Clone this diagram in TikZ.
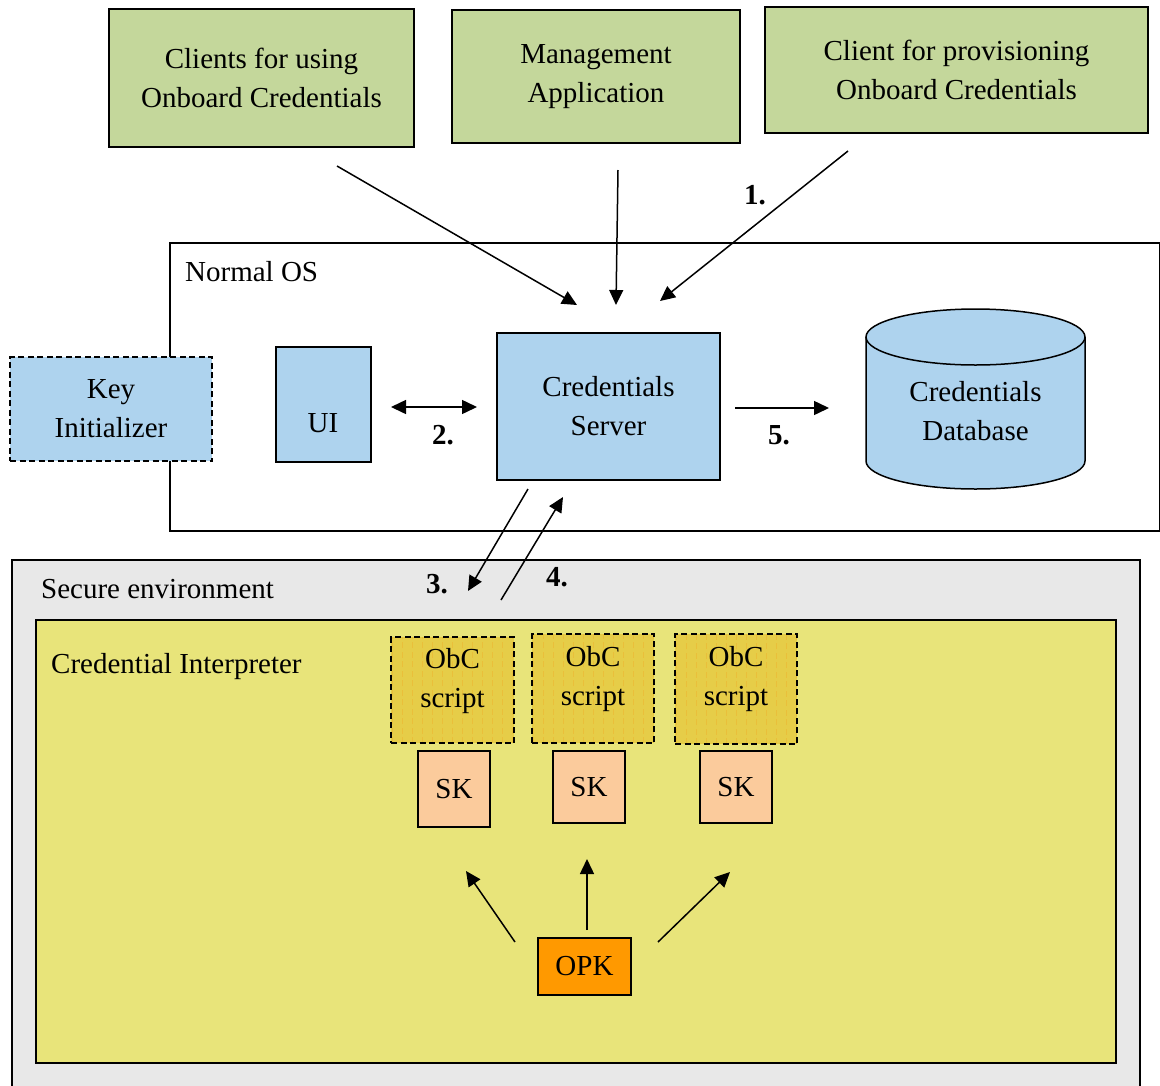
\documentclass[tikz,border=0pt]{standalone}
\usepackage{fontspec}
\setmainfont{Liberation Serif}
\usetikzlibrary{arrows.meta}

\definecolor{boxgreen}{HTML}{C4D79B}
\definecolor{boxblue}{HTML}{AED3EE}
\definecolor{envgray}{HTML}{E8E8E8}
\definecolor{interp}{HTML}{E8E47A}
\definecolor{scriptfill}{HTML}{E6CD48}
\definecolor{scriptgrid}{HTML}{EDBA35}
\definecolor{skpeach}{HTML}{FBCB9C}
\definecolor{opkorange}{HTML}{FF9900}

\tikzset{
  txt/.style={font=\fontsize{29}{39}\selectfont, align=center, inner sep=0pt},
  num/.style={font=\fontsize{29}{39}\selectfont\bfseries, inner sep=0pt},
  box/.style={draw=black, line width=1.5pt, inner sep=0pt, txt},
  dashedbox/.style={dash pattern=on 6pt off 3.5pt},
  greenbox/.style={box, fill=boxgreen},
  bluebox/.style={box, fill=boxblue},
  envbox/.style={box, anchor=north west},
  scriptbox/.style={box, fill=scriptfill, dashedbox,
    path picture={\draw[scriptgrid, line width=0.5pt, opacity=0.7, step=10]
      (path picture bounding box.south west) grid (path picture bounding box.north east);}},
  skbox/.style={box, fill=skpeach},
  arr/.style={line width=1.5pt, -{Triangle[length=15pt,width=14pt]}},
  dblarr/.style={line width=1.5pt, {Triangle[length=15pt,width=14pt]}-{Triangle[length=15pt,width=14pt]}},
}

\begin{document}
\begin{tikzpicture}[x=1pt, y=-1pt]
\useasboundingbox (0,0) rectangle (1160,1085);

% client applications on top
\node[greenbox, minimum width=305, minimum height=138] (cli) at (261.5,78) {Clients for using\\Onboard Credentials};
\node[greenbox, minimum width=288, minimum height=133] (mgmt) at (596,76.5) {Management\\Application};
\node[greenbox, minimum width=383, minimum height=126] (prov) at (956.5,70) {Client for provisioning\\Onboard Credentials};

% normal OS
\node[envbox, fill=white, minimum width=990, minimum height=288] (os) at (169,242) {};
\node[txt, anchor=west] (oslbl) at (185,272) {Normal OS};

\node[bluebox, dashedbox, minimum width=202, minimum height=104] (keyi) at (111,409) {Key\\Initializer};
\node[bluebox, minimum width=95, minimum height=115] (ui) at (323.5,404.5) {};
\node[txt] (uilbl) at (323,423) {UI};
\node[bluebox, minimum width=223, minimum height=147] (srv) at (608.5,406.5) {Credentials\\Server};

% credentials database cylinder
\path[fill=boxblue, draw=black, line width=1.5pt] (866,337) -- (866,461)
  arc[start angle=180, end angle=0, x radius=109.5, y radius=28] -- (1085,337);
\filldraw[fill=boxblue, draw=black, line width=1.5pt] (975.5,337) ellipse[x radius=109.5, y radius=28];
\node[txt] (db) at (975.5,411) {Credentials\\Database};

% secure environment
\node[envbox, fill=envgray, minimum width=1128, minimum height=545] (sec) at (11,559) {};
\node[txt, anchor=west] (seclbl) at (41,589) {Secure environment};
\node[envbox, fill=interp, minimum width=1080, minimum height=443] (ci) at (35,619) {};
\node[txt, anchor=west] (cilbl) at (51,667) {Credential Interpreter};

\node[scriptbox, minimum width=123, minimum height=106] (obc1) at (452.5,690) {};
\node[scriptbox, minimum width=122, minimum height=109] (obc2) at (593,688.5) {};
\node[scriptbox, minimum width=122, minimum height=110] (obc3) at (736,689) {};
\node[txt] (obc1t) at (452.5,681) {ObC\\script};
\node[txt] (obc2t) at (593,679) {ObC\\script};
\node[txt] (obc3t) at (736,679) {ObC\\script};

\node[skbox, minimum width=72, minimum height=76] (sk1) at (454,789) {SK};
\node[skbox, minimum width=72, minimum height=72] (sk2) at (589,787) {SK};
\node[skbox, minimum width=72, minimum height=72] (sk3) at (736,787) {SK};
\node[box, fill=opkorange, minimum width=93, minimum height=57] (opk) at (584.5,966.5) {OPK};

% connector end points
\coordinate (c1a) at (337,166);  \coordinate (c1b) at (577,305);
\coordinate (c2a) at (618,170);  \coordinate (c2b) at (616,305);
\coordinate (c3a) at (848,151);  \coordinate (c3b) at (660,301);
\coordinate (uia) at (391,407);  \coordinate (uib) at (477,407);
\coordinate (dba) at (735,408);  \coordinate (dbb) at (829,408);
\coordinate (s3a) at (528,489);  \coordinate (s3b) at (468,591);
\coordinate (s4a) at (501,600);  \coordinate (s4b) at (563,497);
\coordinate (o1a) at (515,942);  \coordinate (o1b) at (466,871);
\coordinate (o2a) at (587,930);  \coordinate (o2b) at (587,859);
\coordinate (o3a) at (658,942);  \coordinate (o3b) at (730,872);

\draw[arr] (c1a) -- (c1b);
\draw[arr] (c2a) -- (c2b);
\draw[arr] (c3a) -- (c3b);
\draw[dblarr] (uia) -- (uib);
\draw[arr] (dba) -- (dbb);
\draw[arr] (s3a) -- (s3b);
\draw[arr] (s4a) -- (s4b);
\draw[arr] (o1a) -- (o1b);
\draw[arr] (o2a) -- (o2b);
\draw[arr] (o3a) -- (o3b);

% step numbers
\node[num] (n1) at (755,195) {1.};
\node[num] (n2) at (443,435) {2.};
\node[num] (n3) at (437,584) {3.};
\node[num] (n4) at (557,577) {4.};
\node[num] (n5) at (779,435) {5.};
\end{tikzpicture}
\end{document}
